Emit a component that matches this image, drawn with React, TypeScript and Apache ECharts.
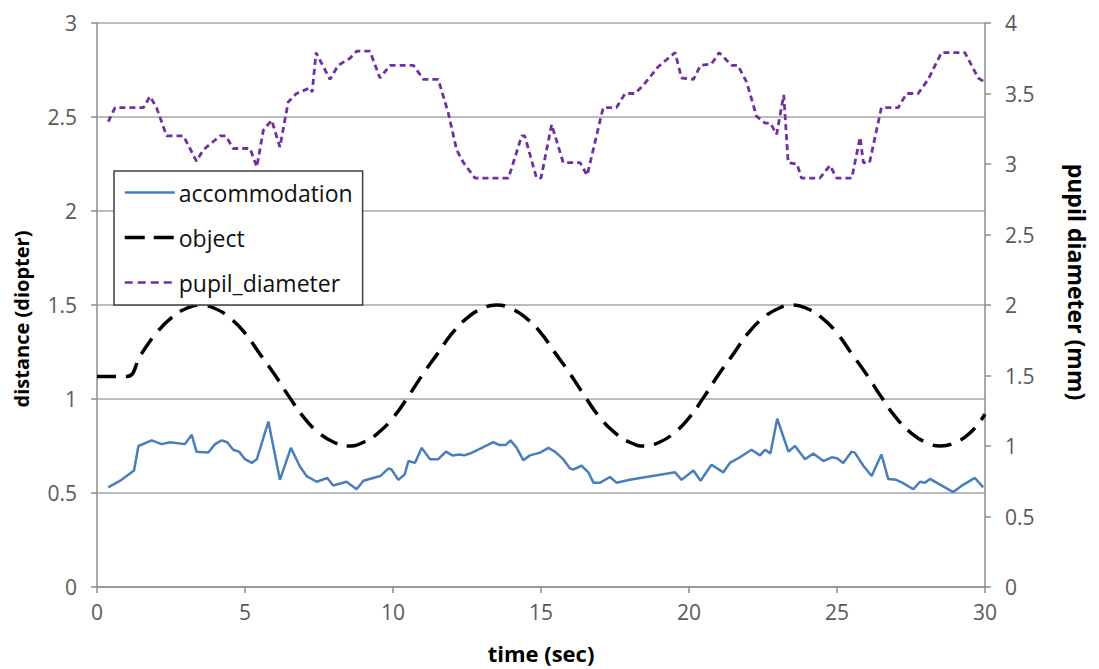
import React, { useEffect, useRef } from "react";
import * as echarts from "echarts";

// accommodation (diopter) vs time (sec)
const accTime = [0.38, 0.83, 1.17, 1.25, 1.4, 1.85, 2.18, 2.47, 2.97, 3.2, 3.36, 3.76, 3.99, 4.21, 4.4, 4.6, 4.8, 5.0, 5.23, 5.4, 5.79, 6.18, 6.55, 6.86, 7.08, 7.42, 7.78, 7.98, 8.43, 8.77, 9.0, 9.33, 9.57, 9.84, 9.95, 10.18, 10.4, 10.52, 10.74, 10.97, 11.25, 11.53, 11.79, 12.0, 12.26, 12.4, 12.6, 13.0, 13.39, 13.6, 13.8, 13.97, 14.18, 14.4, 14.63, 14.97, 15.25, 15.47, 15.75, 15.98, 16.1, 16.37, 16.6, 16.77, 17.0, 17.33, 17.55, 18.0, 19.53, 19.75, 20.15, 20.39, 20.76, 21.16, 21.38, 21.72, 22.11, 22.4, 22.57, 22.75, 22.98, 23.36, 23.58, 23.92, 24.2, 24.54, 24.82, 25.0, 25.21, 25.49, 25.6, 25.89, 26.17, 26.5, 26.73, 27.0, 27.2, 27.58, 27.8, 27.97, 28.14, 28.48, 28.93, 29.27, 29.66, 29.94];
const accValue = [0.53, 0.57, 0.61, 0.62, 0.75, 0.78, 0.76, 0.77, 0.76, 0.81, 0.72, 0.715, 0.76, 0.78, 0.77, 0.73, 0.72, 0.68, 0.66, 0.68, 0.88, 0.57, 0.74, 0.64, 0.59, 0.56, 0.58, 0.54, 0.56, 0.52, 0.565, 0.58, 0.59, 0.63, 0.625, 0.57, 0.6, 0.67, 0.66, 0.74, 0.68, 0.68, 0.72, 0.7, 0.705, 0.7, 0.71, 0.74, 0.77, 0.755, 0.755, 0.78, 0.74, 0.675, 0.7, 0.715, 0.74, 0.72, 0.68, 0.63, 0.625, 0.645, 0.61, 0.555, 0.555, 0.585, 0.555, 0.57, 0.61, 0.57, 0.62, 0.565, 0.65, 0.61, 0.66, 0.69, 0.73, 0.7, 0.73, 0.71, 0.895, 0.72, 0.75, 0.68, 0.71, 0.67, 0.69, 0.685, 0.66, 0.72, 0.715, 0.645, 0.59, 0.705, 0.575, 0.57, 0.555, 0.52, 0.56, 0.555, 0.575, 0.545, 0.505, 0.545, 0.58, 0.53];

// object distance (diopter) vs time (sec)
const objTime = [0, 0.5, 1, 1.5, 2, 2.5, 3, 3.5, 4, 4.5, 5, 5.5, 6, 6.5, 7, 7.5, 8, 8.5, 9, 9.5, 10, 10.5, 11, 11.5, 12, 12.5, 13, 13.5, 14, 14.5, 15, 15.5, 16, 16.5, 17, 17.5, 18, 18.5, 19, 19.5, 20, 20.5, 21, 21.5, 22, 22.5, 23, 23.5, 24, 24.5, 25, 25.5, 26, 26.5, 27, 27.5, 28, 28.5, 29, 29.5, 30];
const objValue = [1.12, 1.12, 1.12, 1.24, 1.35, 1.43, 1.48, 1.5, 1.48, 1.43, 1.35, 1.24, 1.13, 1.01, 0.9, 0.82, 0.77, 0.75, 0.77, 0.82, 0.9, 1.01, 1.13, 1.24, 1.35, 1.43, 1.48, 1.5, 1.48, 1.43, 1.35, 1.24, 1.13, 1.01, 0.9, 0.82, 0.77, 0.75, 0.77, 0.82, 0.9, 1.01, 1.13, 1.24, 1.35, 1.43, 1.48, 1.5, 1.48, 1.43, 1.35, 1.24, 1.13, 1.01, 0.9, 0.82, 0.77, 0.75, 0.77, 0.82, 0.92];

// pupil diameter (mm) vs time (sec)
const pupilTime = [0.38, 0.61, 1.57, 1.79, 2.01, 2.35, 2.92, 3.36, 3.59, 4.16, 4.35, 4.6, 5.17, 5.4, 5.62, 5.9, 6.18, 6.46, 6.74, 7.2, 7.27, 7.4, 7.87, 8.15, 8.55, 8.77, 9.22, 9.56, 9.9, 10.69, 11.03, 11.53, 11.87, 12.15, 12.38, 12.77, 13.9, 14.35, 14.45, 14.85, 15.0, 15.36, 15.75, 16.32, 16.56, 17.1, 17.55, 17.84, 18.18, 18.46, 18.96, 19.53, 19.75, 20.15, 20.39, 20.76, 21.02, 21.44, 21.65, 21.95, 22.28, 22.57, 22.75, 22.96, 23.2, 23.35, 23.65, 23.8, 24.42, 24.76, 24.99, 25.5, 25.78, 25.89, 26.1, 26.5, 27.07, 27.35, 27.74, 28.08, 28.53, 29.32, 29.77, 30.0];
const pupilValue = [3.3, 3.4, 3.4, 3.48, 3.4, 3.2, 3.2, 3.02, 3.1, 3.2, 3.2, 3.11, 3.11, 2.98, 3.24, 3.31, 3.12, 3.44, 3.5, 3.54, 3.51, 3.79, 3.6, 3.7, 3.75, 3.8, 3.8, 3.61, 3.7, 3.7, 3.6, 3.6, 3.36, 3.1, 3.01, 2.9, 2.9, 3.2, 3.2, 2.9, 2.9, 3.28, 3.01, 3.01, 2.92, 3.4, 3.4, 3.5, 3.5, 3.56, 3.69, 3.79, 3.61, 3.6, 3.7, 3.71, 3.79, 3.7, 3.7, 3.58, 3.34, 3.29, 3.29, 3.21, 3.49, 3.01, 3.0, 2.9, 2.9, 2.99, 2.9, 2.9, 3.19, 3.01, 3.01, 3.4, 3.4, 3.5, 3.5, 3.6, 3.79, 3.79, 3.61, 3.58];

const seriesNames = ["accommodation", "object", "pupil_diameter"];
const xAxisTitle = "time (sec)";
const leftAxisTitle = "distance (diopter)";
const rightAxisTitle = "pupil diameter (mm)";

const zip = (a: number[], b: number[]) => a.map((t, i) => [t, b[i]]);

const FONT = "Open Sans";
const GRAY = "#8c8c8c";
const LABEL = "#595959";
const BLUE = "#4a7ebb";
const PURPLE = "#7030a0";

export default function App() {
  const ref = useRef<HTMLDivElement>(null);
  useEffect(() => {
    if (!ref.current) return;
    const chart = echarts.init(ref.current, undefined, { renderer: "svg" });
    const axisLabel = { color: LABEL, fontFamily: FONT, fontSize: 21 };
    const nameStyle = { color: "#000", fontFamily: FONT, fontSize: 20, fontWeight: "bold" as const };
    chart.setOption({
      animation: false,
      backgroundColor: "#fff",
      grid: { left: 97, right: 114, top: 23, bottom: 81, containLabel: false },
      legend: {
        orient: "vertical",
        left: 114,
        top: 171,
        padding: [10, 10, 11, 9],
        itemGap: 22,
        itemWidth: 50,
        itemHeight: 14,
        backgroundColor: "#fff",
        borderColor: "#404040",
        borderWidth: 1.5,
        borderRadius: 0,
        itemStyle: { opacity: 0 },
        data: [
          { name: seriesNames[0], lineStyle: { color: BLUE, width: 2.5, type: "solid" } },
          { name: seriesNames[1], lineStyle: { color: "#000", width: 3.5, type: [20, 9] } },
          { name: seriesNames[2], lineStyle: { color: PURPLE, width: 2.5, type: [8, 5] } },
        ],
        textStyle: { color: "#111", fontFamily: FONT, fontSize: 23, lineHeight: 22, padding: [0, 0, 0, -1] },
      },
      xAxis: {
        type: "value",
        min: 0,
        max: 30,
        interval: 5,
        name: xAxisTitle,
        nameLocation: "middle",
        nameGap: 55,
        nameTextStyle: { ...nameStyle, fontSize: 22 },
        axisLine: { show: true, lineStyle: { color: GRAY, width: 1.5 } },
        axisTick: { show: true, length: 6, lineStyle: { color: GRAY, width: 1.5 } },
        axisLabel: { ...axisLabel, margin: 14 },
        splitLine: { show: false },
      },
      yAxis: [
        {
          type: "value",
          min: 0,
          max: 3,
          interval: 0.5,
          position: "left",
          name: leftAxisTitle,
          nameLocation: "middle",
          nameRotate: 90,
          nameGap: 66,
          nameTextStyle: { ...nameStyle, padding: [0, 28, 0, 0] },
          axisLine: { show: true, lineStyle: { color: GRAY, width: 1.5 } },
          axisTick: { show: true, length: 6, lineStyle: { color: GRAY, width: 1.5 } },
          axisLabel: { ...axisLabel, margin: 20 },
          splitLine: { show: true, lineStyle: { color: "#a6a6a6", width: 1.5 } },
        },
        {
          type: "value",
          min: 0,
          max: 4,
          interval: 0.5,
          position: "right",
          name: rightAxisTitle,
          nameLocation: "middle",
          nameRotate: -90,
          nameGap: 80,
          nameTextStyle: { ...nameStyle, fontSize: 23, padding: [0, 46, 0, 0] },
          axisLine: { show: true, lineStyle: { color: GRAY, width: 1.5 } },
          axisTick: { show: true, length: 6, lineStyle: { color: GRAY, width: 1.5 } },
          axisLabel: { ...axisLabel, margin: 20 },
          splitLine: { show: false },
        },
      ],
      series: [
        {
          name: seriesNames[0],
          type: "line",
          yAxisIndex: 0,
          symbol: "none",
          data: zip(accTime, accValue),
          lineStyle: { color: BLUE, width: 2.5 },
          itemStyle: { color: BLUE },
          z: 3,
        },
        {
          name: seriesNames[1],
          type: "line",
          yAxisIndex: 0,
          symbol: "none",
          smooth: true,
          data: zip(objTime, objValue),
          lineStyle: { color: "#000", width: 3.5, type: [19, 10] },
          itemStyle: { color: "#000" },
          z: 2,
        },
        {
          name: seriesNames[2],
          type: "line",
          yAxisIndex: 1,
          symbol: "none",
          data: zip(pupilTime, pupilValue),
          lineStyle: { color: PURPLE, width: 2.8, type: [6, 4] },
          itemStyle: { color: PURPLE },
          z: 2,
        },
      ],
    });
    return () => chart.dispose();
  }, []);
  return (
    <div
      ref={ref}
      style={{ position: "fixed", left: 0, top: 0, width: 1099, height: 669, background: "#fff" }}
    />
  );
}
